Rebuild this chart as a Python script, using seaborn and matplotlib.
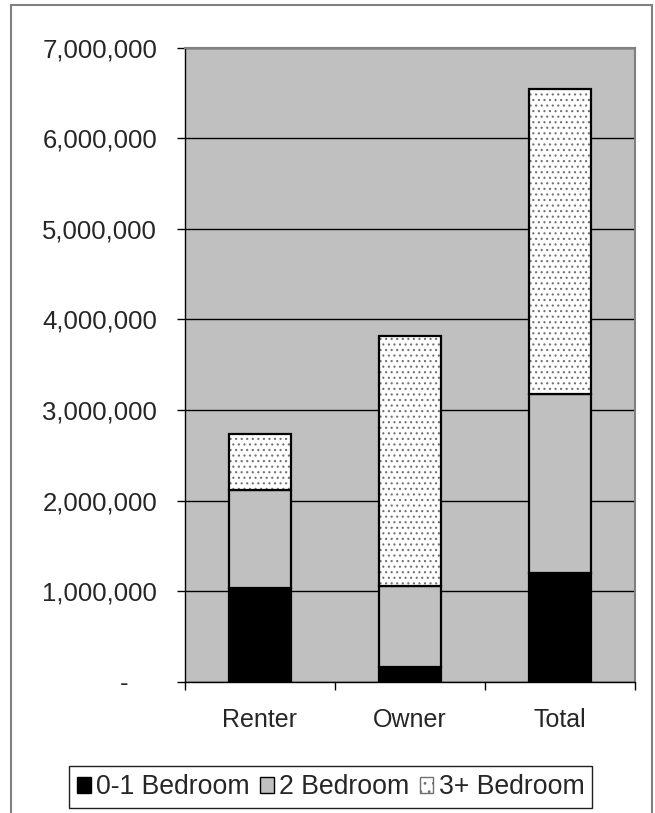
import numpy as np
import pandas as pd
import seaborn as sns
import matplotlib.pyplot as plt
from matplotlib.patches import Patch, Rectangle
from matplotlib.ticker import FuncFormatter, FixedLocator

categories = ['Renter', 'Owner', 'Total']
series_names = ['0-1 Bedroom', '2 Bedroom', '3+ Bedroom']
renter = [1040000, 1080000, 610000]
owner = [165000, 890000, 2760000]
total = [r + o for r, o in zip(renter, owner)]

sns.set_theme(style='white')
plt.rcParams['font.family'] = ['Liberation Sans', 'DejaVu Sans']
plt.rcParams['hatch.linewidth'] = 0.8

df = pd.DataFrame([renter, owner, total], index=categories, columns=series_names)

fig = plt.figure(figsize=(6.55, 8.13), dpi=100)
ax = fig.add_axes([0.2824, 0.1615, 0.687, 0.7798])
ax.set_facecolor('#C0C0C0')
ax.set_axisbelow(True)
ax.yaxis.grid(True, color='black', linewidth=1)

bottoms = np.zeros(len(categories))
fills = ['black', '#C0C0C0', 'white']
bw = 0.41
for name, fc in zip(series_names, fills):
    vals = df[name].values
    if name.startswith('3+'):
        # dotted fill in grey, then a black outline on top
        n0 = len(ax.patches)
        sns.barplot(x=df.index, y=vals, bottom=bottoms, color=fc, edgecolor='#707070',
                    linewidth=0, width=bw, errorbar=None, saturation=1, ax=ax)
        for p in ax.patches[n0:]:
            p.set_hatch('...')
        n1 = len(ax.patches)
        sns.barplot(x=df.index, y=vals, bottom=bottoms, color='white', edgecolor='black',
                    linewidth=1.6, width=bw, errorbar=None, saturation=1, ax=ax)
        for p in ax.patches[n1:]:
            p.set_fill(False)
    else:
        sns.barplot(x=df.index, y=vals, bottom=bottoms, color=fc, edgecolor='black',
                    linewidth=1.6, width=bw, errorbar=None, saturation=1, ax=ax)
    bottoms = bottoms + vals

ax.set_xlim(-0.5, 2.5)
ax.set_ylim(0, 7000000)
ax.set_yticks(np.arange(0, 7000001, 1000000))
ax.yaxis.set_major_formatter(FuncFormatter(lambda v, p: '-    ' if v == 0 else f'{v:,.0f}'))
ax.tick_params(axis='y', which='major', left=True, length=6, width=1, color='black',
               pad=14, labelsize=18.5)
ax.tick_params(axis='x', which='major', bottom=False, length=0, pad=19, labelsize=18)
ax.xaxis.set_minor_locator(FixedLocator([-0.5, 0.5, 1.5, 2.5]))
ax.tick_params(axis='x', which='minor', bottom=True, length=6, width=1, color='black')
ax.set_xlabel('')
ax.set_ylabel('')

for side in ['top', 'right']:
    ax.spines[side].set_color('#808080')
    ax.spines[side].set_linewidth(1.5)
for side in ['left', 'bottom']:
    ax.spines[side].set_color('black')
    ax.spines[side].set_linewidth(1)

handles = [
    Patch(facecolor='black', edgecolor='black', label=series_names[0]),
    Patch(facecolor='#C0C0C0', edgecolor='black', label=series_names[1]),
    Patch(facecolor='white', edgecolor='#707070', hatch='..', label=series_names[2]),
]
leg = fig.legend(handles=handles, loc='center', bbox_to_anchor=(0.5053, 0.0314), ncol=3,
                 fontsize=19.2, frameon=True, fancybox=False, framealpha=1,
                 handlelength=0.5, handleheight=0.5, handletextpad=0.2,
                 columnspacing=0.4, borderpad=0.3, borderaxespad=0)
leg.get_frame().set_edgecolor('#202020')
leg.get_frame().set_linewidth(1)

fig.patches.append(Rectangle((11 / 655, -0.02), 641 / 655, 1.0 - 5 / 813 + 0.02,
                             transform=fig.transFigure, fill=False,
                             edgecolor='#808080', linewidth=1.5))

fig.savefig('out.png', dpi=100)
